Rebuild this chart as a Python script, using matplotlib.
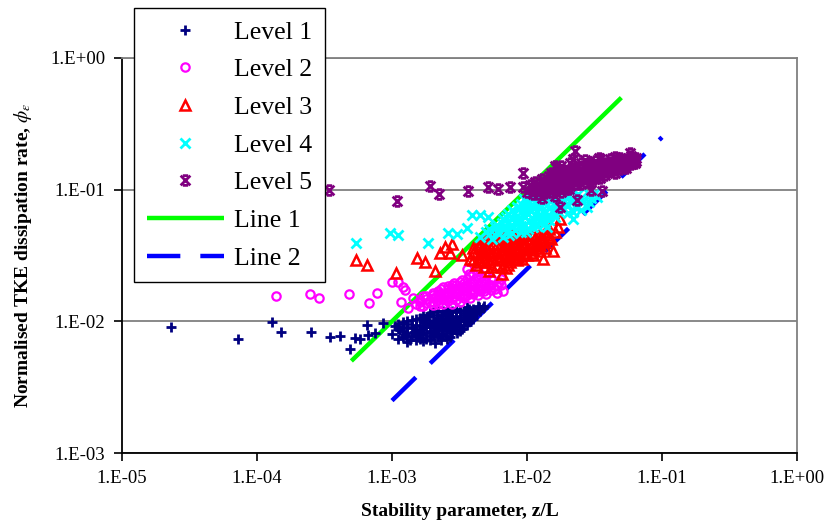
import numpy as np
import matplotlib.pyplot as plt
from matplotlib.path import Path

# ------------------------------------------------------------
# Data
# ------------------------------------------------------------
X_TICKS = [1e-5, 1e-4, 1e-3, 1e-2, 1e-1, 1e0]
X_TICK_LABELS = ["1.E-05", "1.E-04", "1.E-03", "1.E-02", "1.E-01", "1.E+00"]
Y_TICKS = [1e-3, 1e-2, 1e-1, 1e0]
Y_TICK_LABELS = ["1.E-03", "1.E-02", "1.E-01", "1.E+00"]

# Level 1 - scattered points and edge of the cloud
level1_x = [2.3e-5, 7.2e-5, 1.29e-4, 1.5e-4, 2.5e-4, 3.5e-4, 4.1e-4, 4.9e-4, 5.3e-4,
            5.8e-4, 6.5e-4, 6.6e-4, 7.5e-4, 8.6e-4,
            1.0e-3, 1.05e-3, 1.1e-3, 1.15e-3, 1.2e-3, 1.25e-3, 1.3e-3, 1.35e-3, 1.4e-3,
            1.45e-3, 1.5e-3, 1.55e-3, 1.6e-3, 1.65e-3, 1.7e-3, 1.75e-3, 1.8e-3, 1.85e-3,
            1.9e-3, 1.95e-3, 2.0e-3, 2.05e-3, 2.1e-3, 2.15e-3, 2.2e-3, 2.3e-3, 2.35e-3,
            2.4e-3, 2.5e-3, 2.55e-3, 2.6e-3, 2.7e-3, 2.75e-3, 2.8e-3, 2.9e-3, 3.0e-3,
            3.05e-3, 3.1e-3, 3.2e-3, 3.3e-3, 3.4e-3, 3.5e-3, 3.6e-3, 3.7e-3, 3.8e-3,
            3.9e-3, 4.0e-3, 4.2e-3, 4.3e-3, 4.5e-3, 4.7e-3, 1.2e-3, 1.5e-3, 2.0e-3,
            2.5e-3, 3.0e-3, 2.2e-3, 1.7e-3, 2.8e-3, 3.5e-3, 4.0e-3, 3.2e-3, 2.4e-3,
            1.9e-3, 1.3e-3]
level1_y = [9.1e-3, 7.4e-3, 9.9e-3, 8.3e-3, 8.3e-3, 7.6e-3, 7.7e-3, 6.2e-3, 7.5e-3,
            7.3e-3, 9.4e-3, 7.9e-3, 8.1e-3, 9.7e-3,
            8.0e-3, 9.2e-3, 7.4e-3, 8.6e-3, 9.8e-3, 7.9e-3, 8.9e-3, 7.2e-3, 1.02e-2,
            8.3e-3, 9.4e-3, 7.6e-3, 1.06e-2, 8.8e-3, 7.1e-3, 9.9e-3, 8.2e-3, 1.1e-2,
            9.1e-3, 7.7e-3, 1.01e-2, 8.5e-3, 6.9e-3, 1.12e-2, 9.5e-3, 8.0e-3, 1.05e-2,
            8.9e-3, 1.15e-2, 7.4e-3, 9.7e-3, 1.08e-2, 8.4e-3, 1.2e-2, 9.2e-3, 1.1e-2,
            8.1e-3, 1.0e-2, 1.22e-2, 8.8e-3, 1.05e-2, 1.15e-2, 9.3e-3, 1.24e-2, 1.02e-2,
            1.1e-2, 1.12e-2, 1.15e-2, 1.3e-2, 1.2e-2, 1.26e-2, 8.4e-3, 8.6e-3, 9.0e-3,
            9.5e-3, 9.6e-3, 1.05e-2, 8.0e-3, 8.8e-3, 1.0e-2, 1.08e-2, 1.08e-2, 1.0e-2,
            9.6e-3, 9.5e-3]
# Level 1 - dense core
level1_core_x = [1.1e-3, 1.1e-3, 1.2e-3, 1.2e-3, 1.3e-3, 1.3e-3, 1.3e-3, 1.4e-3, 1.4e-3,
                 1.5e-3, 1.5e-3, 1.5e-3, 1.6e-3, 1.6e-3, 1.6e-3, 1.7e-3, 1.7e-3, 1.7e-3,
                 1.8e-3, 1.8e-3, 1.8e-3, 1.9e-3, 1.9e-3, 1.9e-3, 2.0e-3, 2.0e-3, 2.0e-3,
                 2.1e-3, 2.1e-3, 2.1e-3, 2.2e-3, 2.2e-3, 2.2e-3, 2.3e-3, 2.3e-3, 2.3e-3,
                 2.4e-3, 2.4e-3, 2.4e-3, 2.5e-3, 2.5e-3, 2.5e-3, 2.6e-3, 2.6e-3, 2.6e-3,
                 2.7e-3, 2.7e-3, 2.7e-3, 2.8e-3, 2.8e-3, 2.8e-3, 3.0e-3, 3.0e-3, 3.0e-3,
                 3.2e-3, 3.2e-3, 3.2e-3, 3.4e-3, 3.4e-3, 3.4e-3, 3.6e-3, 3.6e-3, 3.6e-3,
                 3.8e-3, 3.8e-3, 4.0e-3, 4.0e-3, 4.4e-3, 4.4e-3, 4.8e-3]
level1_core_y = [8.8e-3, 9.6e-3, 7.6e-3, 9.0e-3, 8.2e-3, 1.0e-2, 7.0e-3, 7.8e-3, 9.0e-3,
                 1.05e-2, 8.0e-3, 7.2e-3, 9.2e-3, 8.4e-3, 7.4e-3, 1.0e-2, 9.0e-3, 1.12e-2,
                 7.4e-3, 9.5e-3, 1.04e-2, 8.5e-3, 1.16e-2, 7.2e-3, 7.8e-3, 9.4e-3, 1.18e-2,
                 8.2e-3, 1.0e-2, 9.0e-3, 7.6e-3, 8.6e-3, 1.2e-2, 9.2e-3, 1.1e-2, 7.2e-3,
                 8.0e-3, 1.2e-2, 9.6e-3, 8.6e-3, 1.04e-2, 7.8e-3, 9.0e-3, 1.12e-2, 1.24e-2,
                 7.6e-3, 9.6e-3, 1.02e-2, 8.2e-3, 1.06e-2, 9.8e-3, 8.6e-3, 1.18e-2, 1.25e-2,
                 9.0e-3, 1.0e-2, 8.4e-3, 9.4e-3, 1.2e-2, 1.12e-2, 1.04e-2, 1.28e-2, 9.8e-3,
                 1.18e-2, 1.08e-2, 1.25e-2, 1.05e-2, 1.22e-2, 1.28e-2, 1.3e-2]

level2_x = [1.38e-4, 2.47e-4, 2.88e-4, 4.8e-4, 6.8e-4, 7.7e-4, 1.0e-3, 1.2e-3, 1.24e-3,
            1.16e-3, 1.31e-3, 1.43e-3, 1.1e-3,
            1.5e-3, 1.6e-3, 1.7e-3, 1.8e-3, 1.9e-3, 2.0e-3, 2.1e-3, 2.2e-3, 2.3e-3,
            2.4e-3, 2.5e-3, 2.6e-3, 2.7e-3, 2.8e-3, 2.9e-3, 3.0e-3, 3.1e-3, 3.2e-3,
            3.3e-3, 3.4e-3, 3.5e-3, 3.6e-3, 3.7e-3, 3.8e-3, 3.9e-3, 4.0e-3, 4.2e-3,
            4.4e-3, 4.6e-3, 4.8e-3, 5.0e-3, 5.2e-3, 5.5e-3, 5.8e-3, 6.2e-3, 6.6e-3,
            3.6e-3, 4.3e-3, 2.2e-3, 2.6e-3, 3.0e-3, 3.4e-3, 2.0e-3, 2.8e-3, 4.0e-3,
            4.5e-3, 1.7e-3]
level2_y = [1.56e-2, 1.62e-2, 1.51e-2, 1.62e-2, 1.38e-2, 1.65e-2, 2.0e-2, 1.83e-2, 1.74e-2,
            1.41e-2, 1.26e-2, 1.51e-2, 2.0e-2,
            1.35e-2, 1.45e-2, 1.3e-2, 1.55e-2, 1.4e-2, 1.65e-2, 1.5e-2, 1.35e-2, 1.75e-2,
            1.6e-2, 1.45e-2, 1.85e-2, 1.7e-2, 1.5e-2, 1.95e-2, 1.6e-2, 1.8e-2, 1.4e-2,
            2.05e-2, 1.7e-2, 1.55e-2, 1.9e-2, 2.3e-2, 1.65e-2, 2.0e-2, 1.75e-2, 2.15e-2,
            1.85e-2, 2.0e-2, 1.7e-2, 2.2e-2, 1.9e-2, 2.05e-2, 1.75e-2, 2.0e-2, 1.7e-2,
            2.5e-2, 2.4e-2, 1.6e-2, 1.55e-2, 1.75e-2, 1.85e-2, 1.4e-2, 1.35e-2, 1.6e-2,
            1.7e-2, 1.55e-2]
level2_core_x = [1.6e-3, 1.6e-3, 1.8e-3, 1.8e-3, 2.0e-3, 2.0e-3, 2.0e-3, 2.2e-3, 2.2e-3,
                 2.2e-3, 2.4e-3, 2.4e-3, 2.4e-3, 2.6e-3, 2.6e-3, 2.6e-3, 2.8e-3, 2.8e-3,
                 2.8e-3, 3.0e-3, 3.0e-3, 3.0e-3, 3.2e-3, 3.2e-3, 3.2e-3, 3.4e-3, 3.4e-3,
                 3.4e-3, 3.6e-3, 3.6e-3, 3.6e-3, 3.8e-3, 3.8e-3, 3.8e-3, 4.0e-3, 4.0e-3,
                 4.0e-3, 4.3e-3, 4.3e-3, 4.3e-3, 4.6e-3, 4.6e-3, 4.6e-3, 5.0e-3, 5.0e-3,
                 5.0e-3, 5.4e-3, 5.4e-3, 5.4e-3, 6.0e-3, 6.0e-3, 6.4e-3, 6.4e-3]
level2_core_y = [1.3e-2, 1.4e-2, 1.38e-2, 1.48e-2, 1.5e-2, 1.58e-2, 1.32e-2, 1.45e-2, 1.7e-2,
                 1.55e-2, 1.35e-2, 1.48e-2, 1.82e-2, 1.42e-2, 1.65e-2, 1.75e-2, 1.6e-2, 1.78e-2,
                 1.88e-2, 1.45e-2, 1.68e-2, 1.9e-2, 1.55e-2, 1.72e-2, 1.98e-2, 1.5e-2, 1.62e-2,
                 1.95e-2, 1.58e-2, 1.78e-2, 2.1e-2, 1.5e-2, 1.85e-2, 2.2e-2, 1.68e-2, 1.95e-2,
                 2.3e-2, 1.58e-2, 1.8e-2, 2.05e-2, 1.72e-2, 1.88e-2, 2.2e-2, 1.62e-2, 1.8e-2,
                 2.0e-2, 1.72e-2, 1.9e-2, 2.15e-2, 1.65e-2, 1.85e-2, 1.9e-2, 2.1e-2]

level3_x = [5.4e-4, 6.5e-4, 1.07e-3, 1.53e-3, 1.75e-3, 2.08e-3, 2.27e-3, 2.48e-3, 2.69e-3,
            2.8e-3, 3.3e-3,
            3.8e-3, 4.0e-3, 4.2e-3, 4.5e-3, 4.5e-3, 4.8e-3, 5.0e-3, 5.0e-3, 5.3e-3,
            5.5e-3, 5.6e-3, 5.8e-3, 6.0e-3, 6.2e-3, 6.4e-3, 6.6e-3, 6.8e-3, 7.0e-3,
            7.2e-3, 7.4e-3, 7.6e-3, 7.8e-3, 8.0e-3, 8.3e-3, 8.6e-3, 8.9e-3, 9.2e-3,
            9.5e-3, 9.8e-3, 1.0e-2, 1.05e-2, 1.1e-2, 1.15e-2, 1.2e-2, 1.25e-2, 1.3e-2,
            1.35e-2, 1.4e-2, 1.5e-2, 1.6e-2, 1.7e-2, 1.75e-2, 5.2e-3, 6.5e-3, 7.0e-3,
            4.3e-3, 8.5e-3, 1.1e-2, 1.25e-2, 1.31e-2, 1.56e-2]
level3_y = [2.94e-2, 2.69e-2, 2.34e-2, 3.04e-2, 2.83e-2, 2.42e-2, 3.32e-2, 3.69e-2, 3.32e-2,
            3.88e-2, 3.2e-2,
            3.0e-2, 3.6e-2, 2.7e-2, 3.3e-2, 4.0e-2, 2.9e-2, 3.6e-2, 4.4e-2, 3.2e-2,
            2.6e-2, 3.9e-2, 4.6e-2, 3.4e-2, 2.9e-2, 4.2e-2, 3.7e-2, 3.1e-2, 4.5e-2,
            2.7e-2, 3.9e-2, 3.4e-2, 4.7e-2, 3.0e-2, 4.1e-2, 3.6e-2, 3.2e-2, 4.4e-2,
            3.8e-2, 3.3e-2, 4.6e-2, 4.0e-2, 3.5e-2, 4.3e-2, 3.8e-2, 4.7e-2, 4.1e-2,
            3.6e-2, 4.5e-2, 4.2e-2, 4.8e-2, 5.2e-2, 6.0e-2, 2.4e-2, 2.3e-2, 2.55e-2,
            3.9e-2, 2.9e-2, 3.2e-2, 3.4e-2, 3.0e-2, 3.4e-2]
level3_core_x = [4.0e-3, 4.0e-3, 4.4e-3, 4.4e-3, 4.4e-3, 4.8e-3, 4.8e-3, 4.8e-3, 4.8e-3,
                 5.2e-3, 5.2e-3, 5.2e-3, 5.2e-3, 5.6e-3, 5.6e-3, 5.6e-3, 6.0e-3, 6.0e-3,
                 6.0e-3, 6.0e-3, 6.5e-3, 6.5e-3, 6.5e-3, 6.5e-3, 7.0e-3, 7.0e-3, 7.0e-3,
                 7.0e-3, 7.5e-3, 7.5e-3, 7.5e-3, 7.5e-3, 8.0e-3, 8.0e-3, 8.0e-3, 8.6e-3,
                 8.6e-3, 8.6e-3, 8.6e-3, 9.2e-3, 9.2e-3, 9.2e-3, 1.0e-2, 1.0e-2, 1.0e-2,
                 1.08e-2, 1.08e-2, 1.08e-2, 1.16e-2, 1.16e-2, 1.25e-2, 1.25e-2, 1.35e-2,
                 1.35e-2, 1.45e-2, 1.45e-2]
level3_core_y = [2.9e-2, 3.3e-2, 2.8e-2, 3.1e-2, 3.7e-2, 3.2e-2, 3.5e-2, 4.2e-2, 2.6e-2,
                 2.8e-2, 3.4e-2, 3.8e-2, 4.5e-2, 3.0e-2, 3.3e-2, 4.3e-2, 2.7e-2, 3.8e-2,
                 4.4e-2, 3.1e-2, 3.3e-2, 3.5e-2, 4.6e-2, 2.6e-2, 2.9e-2, 3.2e-2, 3.7e-2,
                 4.1e-2, 3.1e-2, 3.6e-2, 4.3e-2, 2.8e-2, 3.3e-2, 3.8e-2, 4.4e-2, 3.1e-2,
                 3.4e-2, 4.0e-2, 4.6e-2, 3.0e-2, 3.5e-2, 3.9e-2, 3.2e-2, 3.6e-2, 4.2e-2,
                 3.3e-2, 3.8e-2, 4.5e-2, 3.6e-2, 4.0e-2, 3.8e-2, 4.3e-2, 4.0e-2,
                 4.8e-2, 4.4e-2, 5.0e-2]

level4_x = [5.4e-4, 9.7e-4, 1.11e-3, 1.85e-3, 2.6e-3, 3.03e-3, 3.6e-3, 3.9e-3, 4.5e-3,
            5.1e-3,
            4.5e-3, 5.0e-3, 5.5e-3, 5.8e-3, 6.2e-3, 6.5e-3, 6.8e-3, 7.0e-3, 7.3e-3,
            7.6e-3, 8.0e-3, 8.2e-3, 8.5e-3, 8.8e-3, 9.0e-3, 9.4e-3, 9.8e-3, 1.0e-2,
            1.03e-2, 1.07e-2, 1.1e-2, 1.14e-2, 1.18e-2, 1.22e-2, 1.26e-2, 1.3e-2,
            1.35e-2, 1.4e-2, 1.45e-2, 1.5e-2, 1.55e-2, 1.6e-2, 1.7e-2, 1.8e-2, 1.9e-2,
            2.0e-2, 2.1e-2, 2.25e-2, 2.4e-2, 2.6e-2, 2.8e-2, 3.0e-2, 3.2e-2, 1.2e-2,
            9.5e-3, 1.6e-2, 2.2e-2, 1.4e-2]
level4_y = [3.95e-2, 4.71e-2, 4.55e-2, 3.95e-2, 4.71e-2, 4.6e-2, 5.14e-2, 6.46e-2, 6.46e-2,
            6.23e-2,
            4.4e-2, 4.8e-2, 4.2e-2, 5.2e-2, 4.6e-2, 5.6e-2, 5.0e-2, 6.2e-2, 4.5e-2,
            5.4e-2, 6.6e-2, 4.9e-2, 5.9e-2, 7.2e-2, 5.3e-2, 6.4e-2, 4.8e-2, 7.6e-2,
            5.8e-2, 6.9e-2, 5.2e-2, 8.0e-2, 6.2e-2, 7.2e-2, 5.6e-2, 8.4e-2,
            6.6e-2, 7.6e-2, 5.9e-2, 8.8e-2, 7.0e-2, 6.2e-2, 8.0e-2, 7.2e-2, 9.0e-2,
            6.6e-2, 8.2e-2, 7.4e-2, 9.2e-2, 8.0e-2, 7.4e-2, 8.6e-2, 9.5e-2, 9.2e-2,
            8.5e-2, 9.8e-2, 6.0e-2, 5.2e-2]
level4_core_x = [5.2e-3, 5.2e-3, 6.0e-3, 6.0e-3, 6.6e-3, 6.6e-3, 6.6e-3, 7.2e-3, 7.2e-3,
                 7.2e-3, 7.8e-3, 7.8e-3, 7.8e-3, 7.8e-3, 8.4e-3, 8.4e-3, 8.4e-3, 9.0e-3,
                 9.0e-3, 9.0e-3, 9.0e-3, 9.6e-3, 9.6e-3, 9.6e-3, 1.02e-2, 1.02e-2, 1.02e-2,
                 1.02e-2, 1.1e-2, 1.1e-2, 1.1e-2, 1.1e-2, 1.18e-2, 1.18e-2, 1.18e-2, 1.26e-2,
                 1.26e-2, 1.26e-2, 1.26e-2, 1.36e-2, 1.36e-2, 1.36e-2, 1.46e-2, 1.46e-2,
                 1.46e-2, 1.58e-2, 1.58e-2, 1.58e-2, 1.7e-2, 1.7e-2, 1.7e-2, 1.85e-2, 1.85e-2,
                 1.85e-2, 2.0e-2, 2.0e-2, 2.2e-2, 2.2e-2, 2.2e-2, 2.5e-2, 2.5e-2, 2.9e-2,
                 2.9e-2, 3.3e-2]
level4_core_y = [4.6e-2, 5.0e-2, 4.8e-2, 5.4e-2, 4.4e-2, 5.2e-2, 6.0e-2, 4.9e-2, 5.7e-2,
                 6.5e-2, 4.7e-2, 5.2e-2, 6.0e-2, 7.0e-2, 5.5e-2, 6.3e-2, 7.4e-2, 4.8e-2,
                 5.9e-2, 6.8e-2, 7.8e-2, 5.4e-2, 6.2e-2, 7.0e-2, 5.0e-2, 6.5e-2, 7.3e-2,
                 8.2e-2, 5.6e-2, 6.0e-2, 7.6e-2, 8.6e-2, 5.3e-2, 6.8e-2, 7.8e-2, 6.0e-2,
                 6.4e-2, 7.4e-2, 8.9e-2, 5.6e-2, 6.9e-2, 8.1e-2, 6.3e-2, 7.3e-2,
                 8.5e-2, 6.6e-2, 7.6e-2, 8.6e-2, 6.9e-2, 7.4e-2, 9.2e-2, 7.2e-2, 7.9e-2,
                 8.5e-2, 7.6e-2, 8.9e-2, 6.8e-2, 8.4e-2, 9.6e-2, 7.0e-2, 8.6e-2, 8.0e-2,
                 9.2e-2, 8.8e-2]

level5_x = [3.4e-4, 1.09e-3, 1.91e-3, 2.23e-3, 3.66e-3, 5.1e-3, 6.1e-3, 7.5e-3, 9.3e-3,
            9.3e-3,
            1.0e-2, 1.05e-2, 1.1e-2, 1.15e-2, 1.2e-2, 1.25e-2, 1.3e-2, 1.35e-2, 1.4e-2,
            1.45e-2, 1.5e-2, 1.55e-2, 1.6e-2, 1.65e-2, 1.7e-2, 1.75e-2, 1.8e-2, 1.85e-2,
            1.9e-2, 2.0e-2, 2.05e-2, 2.1e-2, 2.2e-2, 2.3e-2, 2.4e-2, 2.5e-2, 2.6e-2,
            2.7e-2, 2.8e-2, 2.9e-2, 3.0e-2, 3.15e-2, 3.3e-2, 3.45e-2, 3.6e-2, 3.8e-2,
            4.0e-2, 4.2e-2, 4.4e-2, 4.7e-2, 5.0e-2, 5.3e-2, 5.6e-2, 6.0e-2, 6.3e-2,
            2.27e-2, 5.8e-2, 1.76e-2, 2.34e-2, 3.6e-2, 1.3e-2, 3.0e-2, 2.2e-2, 4.5e-2,
            3.4e-2, 1.6e-2]
level5_y = [1.0e-1, 8.25e-2, 1.07e-1, 9.3e-2, 9.7e-2, 1.04e-1, 1.01e-1, 1.04e-1, 1.35e-1,
            1.04e-1,
            9.6e-2, 1.08e-1, 1.0e-1, 1.15e-1, 9.2e-2, 1.05e-1, 1.2e-1, 9.8e-2, 1.12e-1,
            1.28e-1, 1.02e-1, 1.18e-1, 9.0e-2, 1.34e-1, 1.08e-1, 1.24e-1, 9.6e-2, 1.4e-1,
            1.14e-1, 1.3e-1, 1.02e-1, 1.2e-1, 1.45e-1, 1.1e-1, 1.32e-1, 1.22e-1, 1.5e-1,
            1.15e-1, 1.38e-1, 1.26e-1, 1.55e-1, 1.2e-1, 1.42e-1, 1.3e-1, 1.58e-1, 1.36e-1,
            1.48e-1, 1.62e-1, 1.4e-1, 1.55e-1, 1.68e-1, 1.5e-1, 1.62e-1, 1.72e-1, 1.6e-1,
            1.95e-1, 1.91e-1, 7.4e-2, 8.4e-2, 9.7e-2, 8.6e-2, 1.0e-1, 1.7e-1, 1.78e-1,
            1.75e-1, 1.5e-1]
level5_core_x = [1.1e-2, 1.1e-2, 1.2e-2, 1.2e-2, 1.35e-2, 1.35e-2, 1.35e-2, 1.5e-2, 1.5e-2,
                 1.5e-2, 1.5e-2, 1.65e-2, 1.65e-2, 1.65e-2, 1.65e-2, 1.8e-2, 1.8e-2, 1.8e-2,
                 1.8e-2, 1.95e-2, 1.95e-2, 1.95e-2, 1.95e-2, 2.1e-2, 2.1e-2, 2.1e-2, 2.1e-2,
                 2.3e-2, 2.3e-2, 2.3e-2, 2.3e-2, 2.5e-2, 2.5e-2, 2.5e-2, 2.5e-2, 2.7e-2,
                 2.7e-2, 2.7e-2, 2.7e-2, 2.95e-2, 2.95e-2, 2.95e-2, 2.95e-2, 3.2e-2, 3.2e-2,
                 3.2e-2, 3.2e-2, 3.5e-2, 3.5e-2, 3.5e-2, 3.5e-2, 3.8e-2, 3.8e-2, 3.8e-2,
                 4.1e-2, 4.1e-2, 4.1e-2, 4.5e-2, 4.5e-2, 4.5e-2, 4.9e-2, 4.9e-2, 4.9e-2,
                 5.4e-2, 5.4e-2, 5.4e-2, 5.9e-2, 5.9e-2, 5.9e-2, 6.4e-2, 6.4e-2]
level5_core_y = [9.2e-2, 1.05e-1, 1.0e-1, 1.1e-1, 1.06e-1, 1.16e-1, 9.4e-2, 1.1e-1, 1.24e-1,
                 9.6e-2, 1.35e-1, 1.0e-1, 1.16e-1, 1.26e-1, 1.45e-1, 1.06e-1, 1.2e-1, 1.32e-1,
                 1.5e-1, 1.1e-1, 1.24e-1, 1.38e-1, 1.02e-1, 1.06e-1, 1.3e-1, 1.42e-1, 1.6e-1,
                 1.16e-1, 1.24e-1, 1.48e-1, 1.38e-1, 1.1e-1, 1.3e-1, 1.44e-1, 1.6e-1, 1.2e-1,
                 1.34e-1, 1.48e-1, 1.68e-1, 1.12e-1, 1.3e-1, 1.4e-1, 1.6e-1, 1.25e-1, 1.36e-1,
                 1.5e-1, 1.66e-1, 1.22e-1, 1.42e-1, 1.52e-1, 1.7e-1, 1.3e-1, 1.46e-1, 1.6e-1,
                 1.38e-1, 1.52e-1, 1.7e-1, 1.34e-1, 1.46e-1, 1.6e-1, 1.44e-1, 1.58e-1, 1.74e-1,
                 1.45e-1, 1.56e-1, 1.7e-1, 1.56e-1, 1.64e-1, 1.8e-1, 1.66e-1, 1.75e-1]

line1_x = [5e-4, 5e-2]
line1_y = [5e-3, 5e-1]
line2_x = [1e-3, 1e-1]
line2_y = [2.5e-3, 2.5e-1]

# ------------------------------------------------------------
# Style
# ------------------------------------------------------------
plt.rcParams["font.family"] = ["Liberation Serif", "DejaVu Serif"]
plt.rcParams["mathtext.fontset"] = "stix"

# Excel-like "x with bars" marker for level 5
star_x = Path(
    [(-1, -1), (1, 1), (-1, 1), (1, -1), (-0.55, 1), (0.55, 1), (-0.55, -1), (0.55, -1)],
    [Path.MOVETO, Path.LINETO] * 4,
)

LEVELS = [
    ("Level 1", level1_x + level1_core_x, level1_y + level1_core_y,
     dict(marker="+", ms=7, mew=2.0, color="#000080")),
    ("Level 2", level2_x + level2_core_x, level2_y + level2_core_y,
     dict(marker="o", ms=6, mew=1.6, mfc="none", mec="#FF00FF")),
    ("Level 3", level3_x + level3_core_x, level3_y + level3_core_y,
     dict(marker="^", ms=6.5, mew=1.8, mfc="none", mec="#FF0000")),
    ("Level 4", level4_x + level4_core_x, level4_y + level4_core_y,
     dict(marker="x", ms=6.5, mew=2.0, color="#00FFFF")),
    ("Level 5", level5_x + level5_core_x, level5_y + level5_core_y,
     dict(marker=star_x, ms=7, mew=2.0, color="#800080")),
]

fig = plt.figure(figsize=(8.29, 5.31), dpi=100)
ax = fig.add_axes([122 / 829, 78 / 531, 675 / 829, 395 / 531])

ax.plot(line1_x, line1_y, color="#00FF00", lw=3.2, solid_capstyle="butt",
        label="Line 1", zorder=2)
ax.plot(line2_x, line2_y, color="#0000FF", lw=3.2, dashes=(7.5, 4.5),
        label="Line 2", zorder=2)

for name, xs, ys, style in LEVELS:
    ax.plot(xs, ys, ls="none", label=name, zorder=3, **style)

ax.set_xscale("log")
ax.set_yscale("log")
ax.set_xlim(1e-5, 1e0)
ax.set_ylim(1e-3, 1e0)
ax.set_xticks(X_TICKS)
ax.set_xticklabels(X_TICK_LABELS)
ax.set_yticks(Y_TICKS)
ax.set_yticklabels(Y_TICK_LABELS)
ax.minorticks_off()
ax.tick_params(axis="both", direction="out", length=6, width=1.2,
               labelsize=13.5, pad=6, color="black")

ax.yaxis.grid(True, color="#808080", lw=1.3)
ax.set_axisbelow(True)
for side in ("top", "right"):
    ax.spines[side].set_color("#808080")
    ax.spines[side].set_linewidth(1.3)
for side in ("left", "bottom"):
    ax.spines[side].set_color("black")
    ax.spines[side].set_linewidth(1.3)

ax.set_xlabel("Stability parameter, z/L", fontsize=14, fontweight="bold", labelpad=12)
ax.set_ylabel(r"Normalised TKE dissipation rate, $\phi_\varepsilon$",
              fontsize=14, fontweight="bold", labelpad=12)

# legend in the order of the original
handles, labels = ax.get_legend_handles_labels()
order = ["Level 1", "Level 2", "Level 3", "Level 4", "Level 5", "Line 1", "Line 2"]
hmap = dict(zip(labels, handles))
leg = fig.legend(
    [hmap[k] for k in order], order,
    loc="upper left", bbox_to_anchor=(134 / 829, 1 - 8 / 531),
    fontsize=18.5, frameon=True, fancybox=False, framealpha=1,
    edgecolor="black", handlelength=3.0, handletextpad=0.4,
    labelspacing=0.57, borderpad=0.5, borderaxespad=0,
)
leg.get_frame().set_linewidth(1.0)

fig.savefig("out.png", dpi=100)
